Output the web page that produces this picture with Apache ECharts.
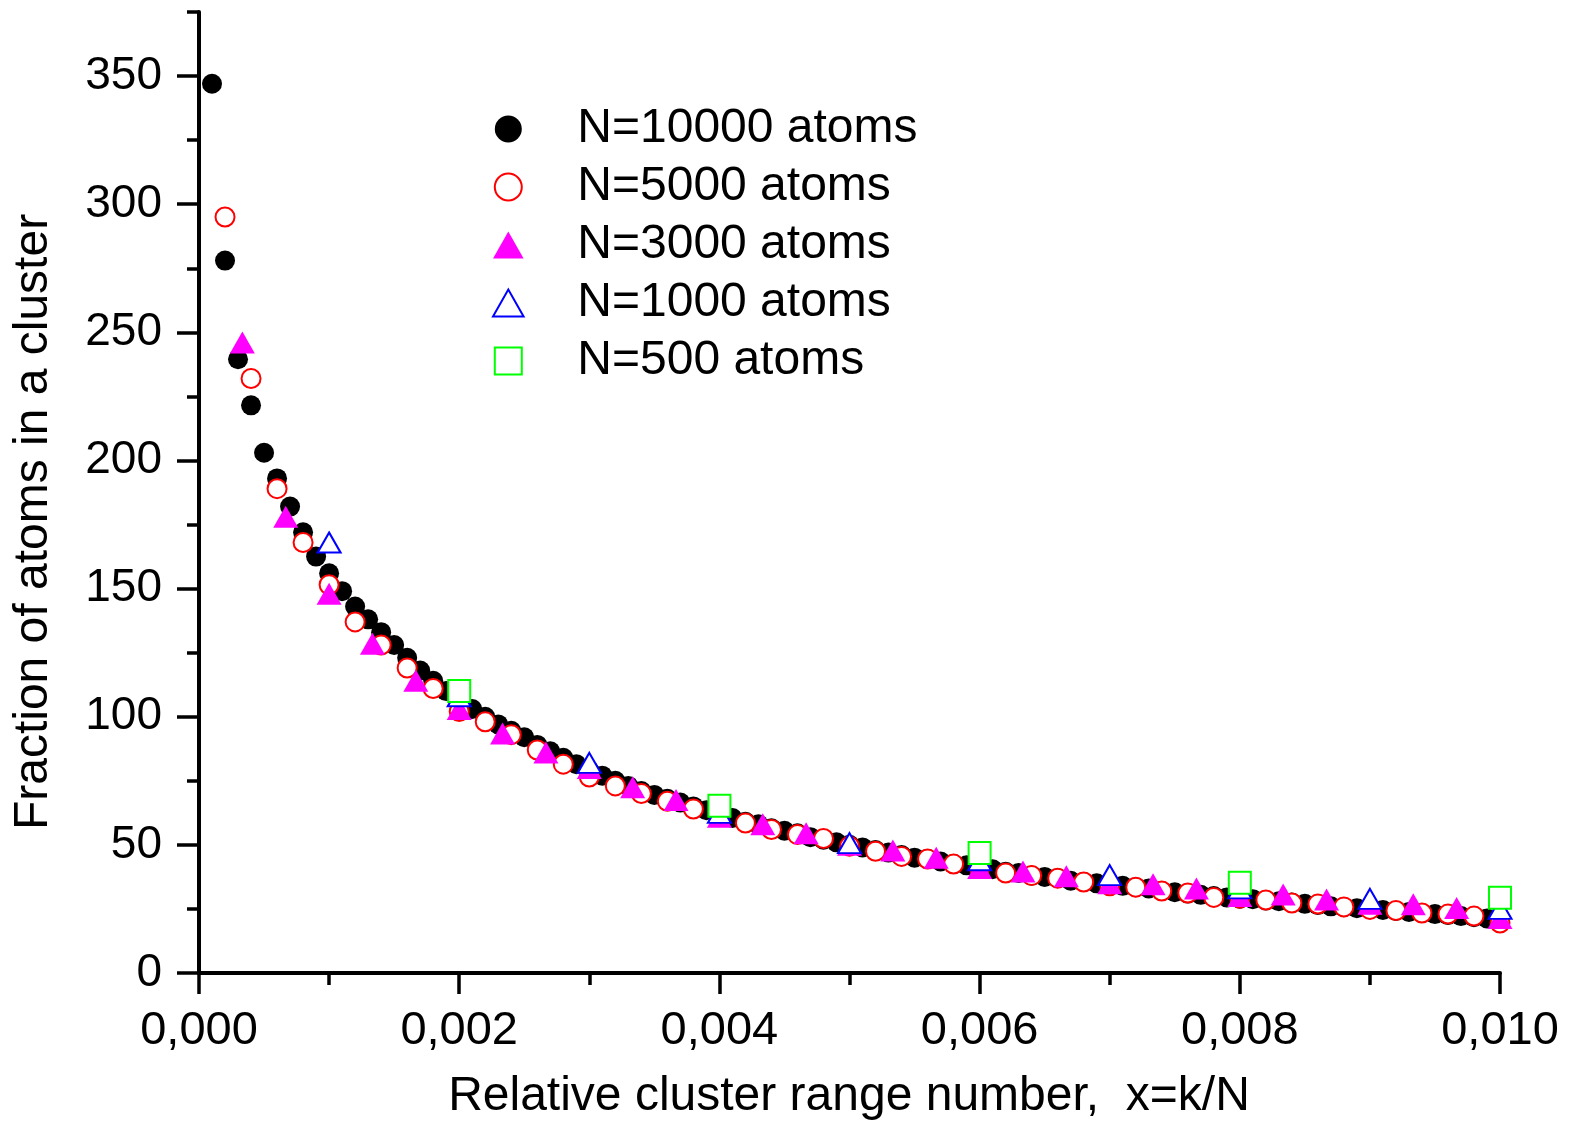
<!DOCTYPE html>
<html>
<head>
<meta charset="utf-8">
<script src="https://cdn.jsdelivr.net/npm/echarts@6/dist/echarts.min.js"></script>
<style>
html,body{margin:0;padding:0;background:#fff;}
#chart{width:1569px;height:1136px;}
</style>
</head>
<body>
<div id="chart"></div>
<script>
// Series names (N atoms) and y-values read at x = k/N, k = 1..count
const seriesNames = ['N=10000 atoms', 'N=5000 atoms', 'N=3000 atoms', 'N=1000 atoms', 'N=500 atoms'];
const atomCounts = [10000, 5000, 3000, 1000, 500];

const N10000 = [347, 278, 239.5, 221.5, 203, 193, 182, 172, 162.5, 156,
  149, 143, 138, 133, 128, 123, 118, 114, 110, 106,
  103, 100, 97, 94.5, 92, 89, 86.5, 84, 81.5, 79,
  77, 75, 73, 71, 69.5, 68, 66.5, 65, 63.5, 62,
  60.5, 59, 58, 56.5, 55.5, 54.5, 53, 52, 51, 50,
  49, 48, 47, 46, 45, 44.5, 43.5, 42.5, 42, 41,
  40.5, 39.5, 39, 38, 37.5, 37, 36, 35.5, 35, 34.5,
  34, 33.5, 33, 32, 31.5, 31, 30.5, 30, 29.5, 29,
  28.8, 28.3, 28, 27.5, 27, 26.5, 26, 25.7, 25.3, 25,
  24.6, 24.2, 23.8, 23.4, 23, 22.6, 22.2, 21.8, 21.3, 20];

const N5000 = [295, 232, 189, 168, 151.5, 137, 128, 119, 111, 102,
  98, 93, 87, 81.5, 76.5, 73, 70, 67, 64, 61,
  58.5, 56, 54, 52.5, 49.5, 47.5, 45.5, 44.5, 42.5, 41,
  39, 38, 37, 35.5, 34, 33.5, 32, 31.2, 29.5, 29.2,
  28.5, 27.3, 26.9, 25.8, 24.8, 24.4, 23.4, 23, 22.2, 19.5];

const N3000 = [246, 178, 148, 128.5, 114, 103, 93.5, 86, 80, 72.5,
  67.5, 61, 58, 54.5, 50, 47.8, 45, 41, 39.6, 37.8,
  35, 34.6, 33, 30, 30.6, 28.7, 27, 26.8, 25.4, 21.5];

const N1000 = [168, 108, 82, 62.5, 50.7, 44, 38.2, 33, 28.9, 25];

const N500 = [110, 65.3, 46.8, 35.2, 29.4];

const xTickLabels = ['0,000', '0,002', '0,004', '0,006', '0,008', '0,010'];

const FONT = '"Liberation Sans", Arial, Helvetica, sans-serif';

function toPoints(vals, n) {
  return vals.map((v, i) => [(i + 1) / n, v]);
}

const chart = echarts.init(document.getElementById('chart'), null, {renderer: 'canvas'});

const TRI_ICON = 'path://M0,30L17,0L34,30Z';
const SQ_ICON = 'path://M0,0L25,0L25,25L0,25Z';

const option = {
  animation: false,
  backgroundColor: '#ffffff',
  grid: [
    {left: 199, right: 69, top: 12, bottom: 163},
    {left: 199, right: 69, top: 12 + (961 * 25 / 375), bottom: 163}
  ],
  xAxis: [
    {
      gridIndex: 0, type: 'value', min: 0, max: 0.01, interval: 0.002,
      axisLine: {lineStyle: {color: '#000', width: 4}},
      axisTick: {length: 21, lineStyle: {color: '#000', width: 3.5}},
      minorTick: {show: true, splitNumber: 2, length: 12, lineStyle: {color: '#000', width: 3.5}},
      splitLine: {show: false},
      axisLabel: {
        color: '#000', fontSize: 47, fontFamily: FONT, margin: 35,
        formatter: function (v) { return xTickLabels[Math.round(v / 0.002)]; }
      }
    },
    {gridIndex: 1, type: 'value', min: 0, max: 0.01, show: false}
  ],
  yAxis: [
    {
      gridIndex: 0, type: 'value', min: 0, max: 375, interval: 25,
      axisLine: {lineStyle: {color: '#000', width: 4}},
      axisTick: {length: 12, lineStyle: {color: '#000', width: 3.5}},
      axisLabel: {show: false},
      splitLine: {show: false}
    },
    {
      gridIndex: 1, type: 'value', min: 0, max: 350, interval: 50,
      axisLine: {show: false},
      axisTick: {show: true, length: 22, lineStyle: {color: '#000', width: 3.5}},
      axisLabel: {color: '#000', fontSize: 46, fontFamily: FONT, margin: 37},
      splitLine: {show: false}
    }
  ],
  legend: {
    orient: 'vertical', left: 492, top: 100, padding: 0, itemGap: 0,
    itemWidth: 128, itemHeight: 27, selectedMode: false, symbolKeepAspect: true,
    textStyle: {color: '#000', fontSize: 48, fontFamily: FONT, lineHeight: 58},
    data: [
      {name: seriesNames[0], icon: 'circle'},
      {name: seriesNames[1], icon: 'circle'},
      {name: seriesNames[2], icon: TRI_ICON},
      {name: seriesNames[3], icon: TRI_ICON},
      {name: seriesNames[4], icon: SQ_ICON}
    ]
  },
  graphic: [
    {
      type: 'text', x: 34, y: 522, rotation: Math.PI / 2,
      style: {
        text: 'Fraction of atoms in a cluster',
        fontSize: 48, fontFamily: FONT, fill: '#000',
        align: 'center', verticalAlign: 'middle'
      }
    },
    {
      type: 'text', x: 849, y: 1097,
      style: {
        text: 'Relative cluster range number,  x=k/N',
        fontSize: 48, fontFamily: FONT, fill: '#000',
        align: 'center', verticalAlign: 'middle'
      }
    }
  ],
  series: [
    {
      name: seriesNames[0], type: 'scatter', xAxisIndex: 0, yAxisIndex: 0,
      symbol: 'circle', symbolSize: 20,
      itemStyle: {color: '#000', opacity: 1},
      data: toPoints(N10000, atomCounts[0])
    },
    {
      name: seriesNames[1], type: 'scatter', xAxisIndex: 0, yAxisIndex: 0,
      symbol: 'circle', symbolSize: 19,
      itemStyle: {color: '#fff', borderColor: '#ff0000', borderWidth: 2, opacity: 1},
      data: toPoints(N5000, atomCounts[1])
    },
    {
      name: seriesNames[2], type: 'scatter', xAxisIndex: 0, yAxisIndex: 0,
      symbol: 'triangle', symbolSize: [25, 22],
      itemStyle: {color: '#ff00ff', opacity: 1},
      data: toPoints(N3000, atomCounts[2])
    },
    {
      name: seriesNames[3], type: 'scatter', xAxisIndex: 0, yAxisIndex: 0,
      symbol: 'triangle', symbolSize: [23, 20],
      itemStyle: {color: '#fff', borderColor: '#0000ff', borderWidth: 2, opacity: 1},
      data: toPoints(N1000, atomCounts[3])
    },
    {
      name: seriesNames[4], type: 'scatter', xAxisIndex: 0, yAxisIndex: 0,
      symbol: 'rect', symbolSize: 22,
      itemStyle: {color: '#fff', borderColor: '#00ff00', borderWidth: 2, opacity: 1},
      data: toPoints(N500, atomCounts[4])
    }
  ]
};

chart.setOption(option);
</script>
</body>
</html>
